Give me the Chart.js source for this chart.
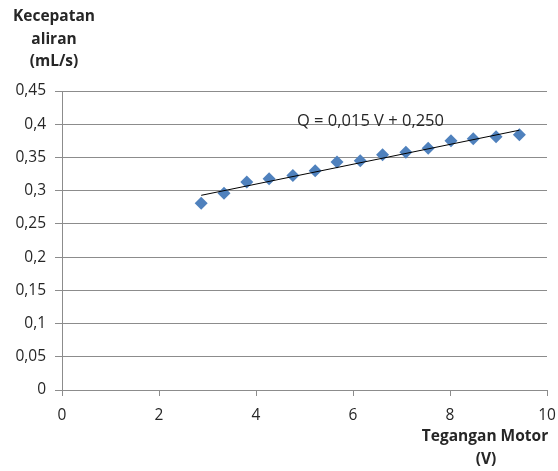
<!DOCTYPE html>
<html>
<head>
<meta charset="utf-8">
<script src="https://cdn.jsdelivr.net/npm/chart.js@4/dist/chart.umd.min.js"></script>
<style>
html, body { margin: 0; padding: 0; background: #fff; }
#wrap { width: 558px; height: 471px; position: relative; }
</style>
</head>
<body>
<div id="wrap"><canvas id="graph"></canvas></div>
<script>
// Measured points: motor voltage (V) vs flow rate (mL/s)
var voltage = [2.87, 3.34, 3.81, 4.27, 4.76, 5.22, 5.67, 6.15, 6.61, 7.09, 7.55, 8.02, 8.48, 8.95, 9.43];
var flow = [0.281, 0.296, 0.313, 0.318, 0.323, 0.330, 0.343, 0.345, 0.354, 0.358, 0.364, 0.375, 0.378, 0.381, 0.384];

// Trend line end points
var trend_v = [2.87, 9.43];
var trend_q = [0.293, 0.391];

var equation = "Q = 0,015 V + 0,250";
var y_title = ["Kecepatan", "aliran", "(mL/s)"];
var x_title = ["Tegangan Motor", "(V)"];

var marker_color = "#4f81bd";
var grid_color = "#8c8c8c";
var text_color = "#262626";
var font_family = "'Open Sans', Lato, sans-serif";

function toPoints(xs, ys) {
	return xs.map(function(x, i) { return { x: x, y: ys[i] }; });
}

function commaNum(v) {
	return String(Number(v.toFixed(2))).replace(".", ",");
}

// Draws the axis titles and the equation label
var labels_plugin = {
	id: "labels_plugin",
	afterDraw: function(chart) {
		var ctx = chart.ctx;
		var xs = chart.scales.x, ys = chart.scales.y;
		ctx.save();
		ctx.fillStyle = text_color;
		ctx.textAlign = "center";
		ctx.textBaseline = "middle";
		ctx.font = "bold 15.5px " + font_family;
		ctx.fillText(y_title[0], 54, 17);
		ctx.fillText(y_title[1], 54, 40);
		ctx.fillText(y_title[2], 54, 62);
		ctx.fillText(x_title[0], 485, 437);
		ctx.fillText(x_title[1], 486, 460);
		ctx.font = "16.5px " + font_family;
		ctx.fillText(equation, xs.getPixelForValue(6.36), ys.getPixelForValue(0.404));
		ctx.restore();
	}
};

var canvas = document.getElementById("graph").getContext("2d");
var graph = new Chart(canvas, {
	type: "scatter",
	data: {
		datasets: [
			{
				label: "Data",
				data: toPoints(voltage, flow),
				pointStyle: "rectRot",
				pointRadius: 6.5,
				pointBackgroundColor: marker_color,
				pointBorderColor: marker_color,
				pointBorderWidth: 0,
				showLine: false,
				order: 2
			},
			{
				label: "Trend",
				data: toPoints(trend_v, trend_q),
				showLine: true,
				borderColor: "#000000",
				borderWidth: 1,
				pointRadius: 0,
				order: 1
			}
		]
	},
	options: {
		responsive: true,
		maintainAspectRatio: false,
		animation: false,
		layout: { padding: { top: 91, right: 11, left: 0, bottom: 0 } },
		plugins: {
			legend: { display: false },
			tooltip: { enabled: false }
		},
		scales: {
			x: {
				type: "linear",
				min: 0,
				max: 10,
				// fixed height, and no extra side padding from the tick labels
				afterFit: function(s) {
					s.height = 81;
					s.paddingLeft = 0;
					s.paddingRight = 0;
				},
				ticks: {
					stepSize: 2,
					color: text_color,
					padding: 10,
					font: { family: font_family, size: 15.5 }
				},
				grid: {
					drawOnChartArea: false,
					drawTicks: true,
					tickLength: 6,
					color: grid_color
				},
				border: { display: true, color: grid_color, width: 1 }
			},
			y: {
				min: 0,
				max: 0.45,
				afterFit: function(s) { s.width = 62; },
				ticks: {
					stepSize: 0.05,
					color: text_color,
					padding: 9,
					font: { family: font_family, size: 15.5 },
					callback: function(value) { return commaNum(value); }
				},
				grid: {
					color: grid_color,
					tickLength: 7
				},
				border: { display: true, color: grid_color, width: 1 }
			}
		}
	},
	plugins: [labels_plugin]
});
</script>
</body>
</html>
